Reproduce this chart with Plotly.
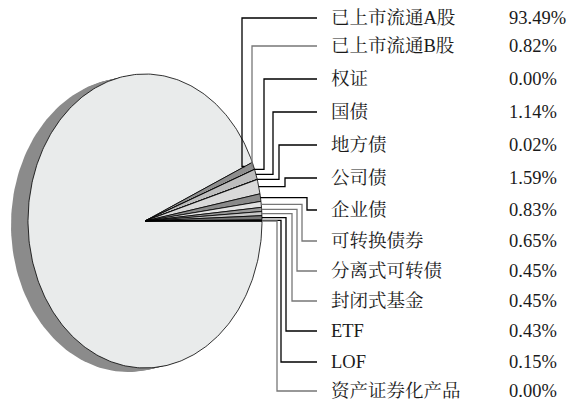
import math
import plotly.graph_objects as go

# ---- data ----
categories = ["已上市流通A股", "已上市流通B股", "权证", "国债", "地方债", "公司债", "企业债",
              "可转换债券", "分离式可转债", "封闭式基金", "ETF", "LOF", "资产证券化产品"]
values = [93.49, 0.82, 0.00, 1.14, 0.02, 1.59, 0.83, 0.65, 0.45, 0.45, 0.43, 0.15, 0.00]
value_labels = ["93.49%", "0.82%", "0.00%", "1.14%", "0.02%", "1.59%", "0.83%",
                "0.65%", "0.45%", "0.45%", "0.43%", "0.15%", "0.00%"]

# ---- style / layout ----
W, H = 571, 404
cx, cy, rx, ry = 145, 221, 117, 147
slice_colors = ["#e9ebeb", "#8e8e8e", "#555555", "#bdbdbd", "#444444", "#d9d9d9", "#8a8a8a",
                "#e4e4e4", "#9a9a9a", "#c8c8c8", "#777777", "#333333", "#000000"]
label_y = [18, 46, 79, 112, 145, 178, 210, 241, 271, 301, 331, 362, 391]
elbow_x = [242, 252, 264, 273, 279, 285, 307, 302, 297, 292, 286, 281, 277]
line_colors = ["#000", "#777", "#000", "#000", "#000", "#000", "#000",
               "#777", "#777", "#777", "#000", "#000", "#777"]
line_end_x = 317
label_x = 329
pct_x = 507
font_family = "Liberation Serif, Noto Serif CJK SC, Noto Sans CJK SC, serif"

fig = go.Figure()


def ell(theta_deg, ox=0.0, oy=0.0, f=1.0):
    t = math.radians(theta_deg)
    return cx + ox + f * rx * math.cos(t), cy + oy - f * ry * math.sin(t)


# shadow (extrusion to the left)
for k in range(1, 9):
    ox, oy = -17 * k / 8, 4 * k / 8
    xs, ys = [], []
    for j in range(0, 361, 2):
        px, py = ell(j, ox, oy)
        xs.append(px)
        ys.append(py)
    fig.add_trace(go.Scatter(x=xs, y=ys, mode="lines", fill="toself",
                             fillcolor="#8b8b8b", line=dict(width=0),
                             hoverinfo="skip", showlegend=False))

# wedges
total = sum(values)
cum = 0.0
angles = []
for v in values:
    a0 = -360 * cum / total
    cum += v
    a1 = -360 * cum / total
    angles.append((a0, a1))

for (a0, a1), col in zip(angles, slice_colors):
    n = max(2, int(abs(a1 - a0) / 1.0) + 2)
    xs, ys = [cx], [cy]
    for j in range(n + 1):
        px, py = ell(a0 + (a1 - a0) * j / n)
        xs.append(px)
        ys.append(py)
    xs.append(cx)
    ys.append(cy)
    fig.add_trace(go.Scatter(x=xs, y=ys, mode="lines", fill="toself",
                             fillcolor=col, line=dict(color="#000", width=0.8),
                             hoverinfo="skip", showlegend=False))

# leader lines
for i, ((a0, a1), ly, ex, lc) in enumerate(zip(angles, label_y, elbow_x, line_colors)):
    if i == 0:
        ax, ay = ell(a1, f=0.93)
    else:
        ax, ay = ell((a0 + a1) / 2)
    fig.add_trace(go.Scatter(x=[ax, ex, ex, line_end_x], y=[ay, ay, ly, ly],
                             mode="lines", line=dict(color=lc, width=1.3),
                             hoverinfo="skip", showlegend=False))

# labels
for cat, vl, ly in zip(categories, value_labels, label_y):
    fig.add_annotation(x=label_x, y=ly, text=cat, showarrow=False,
                       xanchor="left", yanchor="middle",
                       font=dict(family=font_family, size=18.5, color="#1a1a1a"))
    fig.add_annotation(x=pct_x, y=ly, text=vl, showarrow=False,
                       xanchor="left", yanchor="middle",
                       font=dict(family=font_family, size=18.5, color="#1a1a1a"))

fig.update_layout(
    width=W, height=H, margin=dict(l=0, r=0, t=0, b=0),
    paper_bgcolor="white", plot_bgcolor="white",
    xaxis=dict(range=[0, W], visible=False, fixedrange=True),
    yaxis=dict(range=[H, 0], visible=False, fixedrange=True),
    showlegend=False, hovermode=False,
)

fig.write_html("out.html")
